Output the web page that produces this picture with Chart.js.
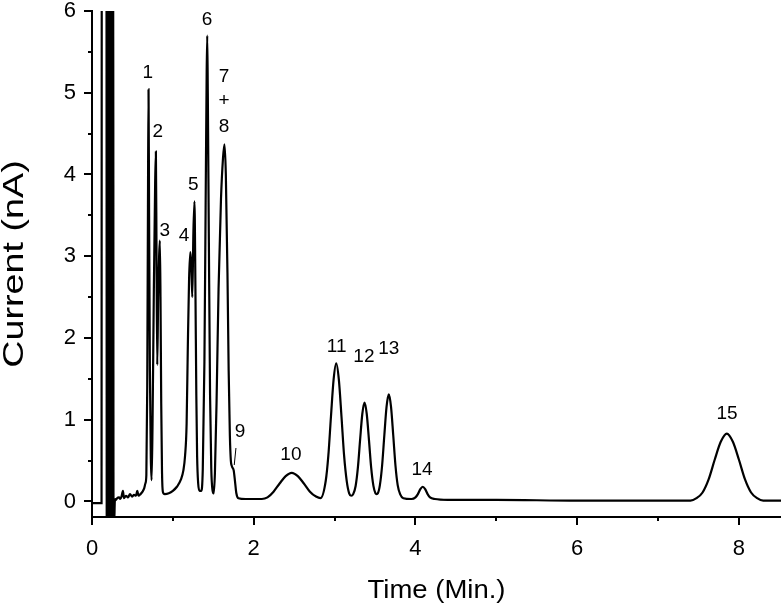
<!DOCTYPE html>
<html>
<head>
<meta charset="utf-8">
<script src="https://cdn.jsdelivr.net/npm/chart.js@4.4.0/dist/chart.umd.min.js"></script>
<style>
  body { margin: 0; background: #fff; }
  canvas { display: block; }
</style>
</head>
<body>
<canvas id="chromChart" width="781" height="606"></canvas>
<script>
// Chromatogram trace (time in min, current in nA)
const times = [
  0, 0.118, 0.121, 0.179, 0.182, 0.186, 0.189, 0.192, 0.199, 0.202, 0.205, 0.212,
  0.215, 0.219, 0.223, 0.227, 0.231, 0.235, 0.239, 0.243, 0.247, 0.251, 0.255, 0.259, 0.262, 0.266, 0.275, 0.282, 0.29,
  0.297, 0.31, 0.334, 0.35, 0.365, 0.383, 0.395, 0.42, 0.445, 0.47, 0.494, 0.52, 0.544, 0.56, 0.575, 0.60, 0.625, 0.645, 0.66, 0.672,
  0.683, 0.692, 0.699, 0.706, 0.716, 0.727, 0.737,
  0.748, 0.765, 0.781, 0.790, 0.798, 0.807,
  0.818, 0.83, 0.839, 0.847, 0.856, 0.866, 0.876,
  0.90, 0.95, 1.00, 1.05, 1.10, 1.13, 1.15, 1.17, 1.185, 1.20, 1.215, 1.228, 1.24, 1.254, 1.267, 1.279, 1.29, 1.30, 1.313, 1.33, 1.35,
  1.37, 1.39, 1.405, 1.418, 1.425, 1.432, 1.445, 1.46, 1.475, 1.49, 1.505,
  1.52, 1.54, 1.565, 1.595, 1.62, 1.638, 1.655, 1.675, 1.69, 1.705, 1.717, 1.73, 1.752, 1.768, 1.785, 1.81, 1.90,
  2.10, 2.17, 2.245, 2.32, 2.395, 2.47, 2.545, 2.62, 2.695, 2.77, 2.825,
  2.89, 2.9225, 2.955, 2.9875, 3.02, 3.0525, 3.085, 3.1175, 3.15, 3.18, 3.205, 3.23,
  3.26, 3.2875, 3.315, 3.3425, 3.37, 3.3975, 3.425, 3.4525, 3.48, 3.505, 3.52, 3.535,
  3.56, 3.5875, 3.615, 3.6425, 3.67, 3.6975, 3.725, 3.7525, 3.78, 3.81, 3.85, 3.95,
  4.00, 4.03, 4.06, 4.09, 4.12, 4.15, 4.18, 4.24, 4.4, 5.0, 6.0, 7.0, 7.40,
  7.475, 7.55, 7.625, 7.70, 7.775, 7.85, 7.925, 8.00, 8.075, 8.15, 8.225, 8.30, 8.52
];
const currents = [
  -0.02, -0.02, 8, 8, -0.25, -0.25, 8, -0.25, -0.25, 8, -0.25, -0.25,
  8, -0.25, 8, -0.25, 8, -0.25, 8, -0.25, 8, -0.25, 8, -0.25, 8, -0.25, -0.25, 0.0, 0.03,
  0.02, 0.04, 0.05, 0.03, 0.06, 0.13, 0.04, 0.07, 0.05, 0.09, 0.06, 0.08, 0.07, 0.13, 0.07, 0.09, 0.12, 0.16, 0.22, 0.32,
  1.4, 3.6, 5.04, 3.5, 1.6, 0.55, 0.26,
  0.9, 2.6, 3.9, 4.28, 3.0, 1.67,
  2.5, 3.0, 3.19, 2.5, 1.2, 0.35, 0.12,
  0.09, 0.10, 0.13, 0.18, 0.27, 0.38, 0.55, 0.95, 1.9, 2.7, 3.05, 2.9, 2.5, 3.3, 3.67, 2.6, 1.3, 0.55, 0.22, 0.13, 0.13,
  0.4, 1.7, 3.6, 5.25, 5.70, 5.0, 3.2, 1.3, 0.4, 0.14, 0.10,
  0.35, 1.2, 2.6, 3.7, 4.2, 4.37, 4.0, 2.8, 1.6, 0.8, 0.5, 0.43, 0.38, 0.25, 0.1, 0.04, 0.03,
  0.03, 0.05, 0.12, 0.22, 0.31, 0.35, 0.31, 0.22, 0.12, 0.06, 0.04,
  0.25, 0.56, 1.04, 1.49, 1.69, 1.49, 1.04, 0.56, 0.25, 0.10, 0.07, 0.09,
  0.19, 0.41, 0.75, 1.07, 1.21, 1.07, 0.75, 0.41, 0.19, 0.10, 0.09, 0.10,
  0.20, 0.44, 0.81, 1.16, 1.31, 1.16, 0.81, 0.44, 0.20, 0.09, 0.04, 0.03,
  0.05, 0.09, 0.15, 0.18, 0.15, 0.09, 0.05, 0.03, 0.02, 0.02, 0.01, 0.01, 0.01,
  0.04, 0.11, 0.27, 0.51, 0.73, 0.83, 0.73, 0.51, 0.27, 0.11, 0.04, 0.01, 0.01
];

// Axis ticks
const xMajorTicks = [0, 2, 4, 6, 8];
const xMinorTicks = [1, 3, 5, 7];
const yMajorTicks = [0, 1, 2, 3, 4, 5, 6];
const yMinorTicks = [0.5, 1.5, 2.5, 3.5, 4.5, 5.5];

const xTitle = 'Time (Min.)';
const yTitle = 'Current (nA)';

// Peak numbers and where they sit (data units)
const peakNames = ['1', '2', '3', '4', '5', '6', '7', '+', '8', '9', '10', '11', '12', '13', '14', '15'];
const peakLabelTimes = [0.689, 0.813, 0.899, 1.137, 1.252, 1.421, 1.632, 1.632, 1.632, 1.83, 2.46, 3.025, 3.362, 3.671, 4.08, 7.853];
const peakLabelCurrents = [5.24, 4.52, 3.31, 3.245, 3.87, 5.89, 5.20, 4.90, 4.58, 0.85, 0.568, 1.89, 1.77, 1.87, 0.39, 1.07];
// short pointer from label 9 to its shoulder
const pointerTimes = [1.780, 1.759];
const pointerCurrents = [0.654, 0.446];

const FONT = '"Liberation Sans", Arial, sans-serif';

// outward tick marks, axis titles, peak numbers and the pointer
const extras = {
  id: 'extras',
  afterDraw(chart) {
    const ctx = chart.ctx;
    const xs = chart.scales.x, ys = chart.scales.y;
    const area = chart.chartArea;
    const left = area.left, bottom = area.bottom;
    ctx.save();
    ctx.strokeStyle = '#000';
    ctx.lineWidth = 2;
    ctx.beginPath();
    xMajorTicks.forEach(v => { const p = Math.round(xs.getPixelForValue(v)); ctx.moveTo(p, bottom); ctx.lineTo(p, bottom + 8); });
    xMinorTicks.forEach(v => { const p = Math.round(xs.getPixelForValue(v)); ctx.moveTo(p, bottom); ctx.lineTo(p, bottom + 4); });
    yMajorTicks.forEach(v => { const p = Math.round(ys.getPixelForValue(v)); ctx.moveTo(left, p); ctx.lineTo(left - 8, p); });
    yMinorTicks.forEach(v => { const p = Math.round(ys.getPixelForValue(v)); ctx.moveTo(left, p); ctx.lineTo(left - 4, p); });
    ctx.stroke();

    ctx.lineWidth = 1;
    ctx.beginPath();
    ctx.moveTo(xs.getPixelForValue(pointerTimes[0]), ys.getPixelForValue(pointerCurrents[0]));
    ctx.lineTo(xs.getPixelForValue(pointerTimes[1]), ys.getPixelForValue(pointerCurrents[1]));
    ctx.stroke();

    ctx.fillStyle = '#000';
    ctx.font = '19px ' + FONT;
    ctx.textAlign = 'center';
    ctx.textBaseline = 'middle';
    peakNames.forEach((name, i) => {
      ctx.fillText(name, xs.getPixelForValue(peakLabelTimes[i]), ys.getPixelForValue(peakLabelCurrents[i]));
    });

    // axis titles (a touch wider than the stock font, like the scan)
    ctx.font = '25px ' + FONT;
    ctx.textBaseline = 'alphabetic';
    ctx.save();
    ctx.translate((area.left + area.right) / 2, 598);
    ctx.scale(1.1, 1);
    ctx.fillText(xTitle, 0, 0);
    ctx.restore();

    ctx.font = '29px ' + FONT;
    ctx.textBaseline = 'middle';
    ctx.save();
    ctx.translate(15, (area.top + area.bottom) / 2);
    ctx.rotate(-Math.PI / 2);
    ctx.scale(1.3, 1);
    ctx.fillText(yTitle, 0, 0);
    ctx.restore();
    ctx.restore();
  }
};

const ctx = document.getElementById('chromChart').getContext('2d');
new Chart(ctx, {
  type: 'line',
  data: {
    datasets: [{
      data: times.map((t, i) => ({ x: t, y: currents[i] })),
      borderColor: '#000',
      borderWidth: 2.2,
      pointRadius: 0,
      cubicInterpolationMode: 'monotone',
      fill: false
    }]
  },
  options: {
    responsive: false,
    animation: false,
    devicePixelRatio: 1,
    layout: { padding: { top: 11, left: 0, right: 0, bottom: 0 } },
    plugins: { legend: { display: false }, tooltip: { enabled: false } },
    scales: {
      x: {
        type: 'linear',
        min: 0,
        max: 8.52,
        afterBuildTicks: s => { s.ticks = xMajorTicks.map(v => ({ value: v })); },
        afterFit: s => { s.height = 89; s.paddingLeft = 0; s.paddingRight = 0; },
        grid: { display: false, drawTicks: false },
        border: { display: true, color: '#000', width: 2 },
        ticks: { color: '#000', font: { family: FONT, size: 22 }, padding: 19, maxRotation: 0 },
        title: { display: false }
      },
      y: {
        type: 'linear',
        min: -0.19,
        max: 6,
        afterBuildTicks: s => { s.ticks = yMajorTicks.map(v => ({ value: v })); },
        afterFit: s => { s.width = 92; s.paddingTop = 0; s.paddingBottom = 0; },
        grid: { display: false, drawTicks: false },
        border: { display: true, color: '#000', width: 2 },
        ticks: { color: '#000', font: { family: FONT, size: 22 }, padding: 16 },
        title: { display: false }
      }
    }
  },
  plugins: [extras]
});
</script>
</body>
</html>
